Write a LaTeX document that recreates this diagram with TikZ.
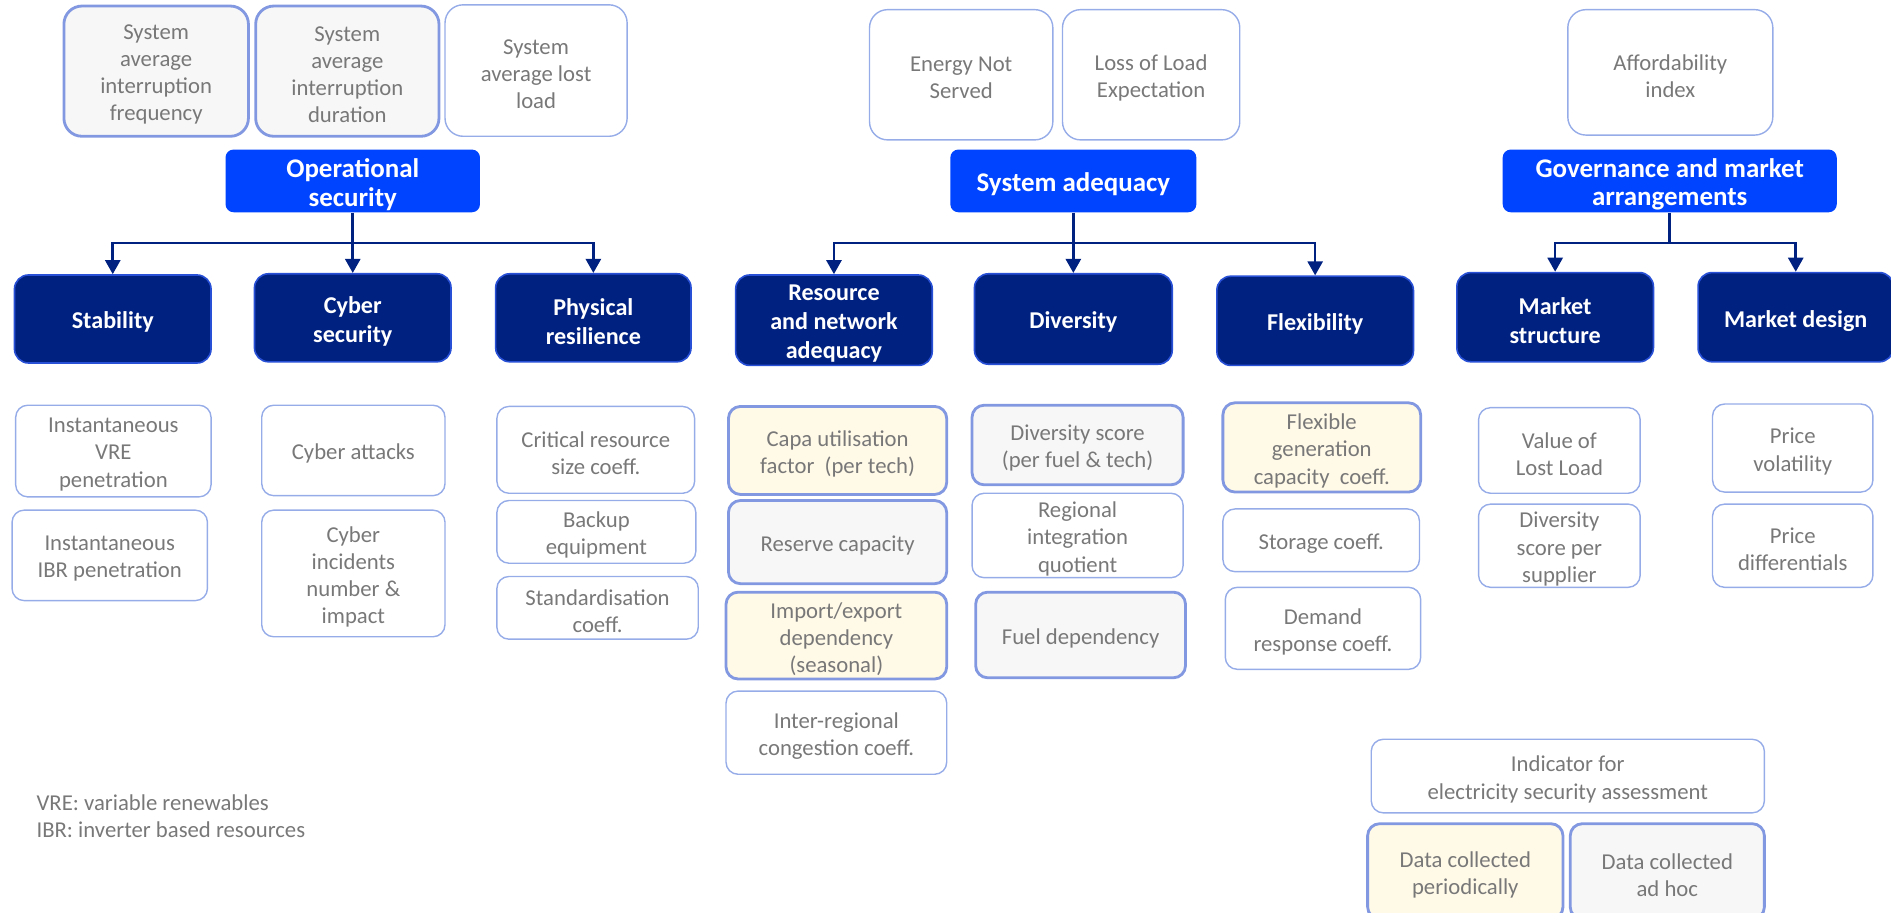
\documentclass[tikz,border=0pt]{standalone}
\usepackage{fontspec}
\setmainfont{Carlito}
\usetikzlibrary{arrows.meta,calc}
\definecolor{hdrblue}{RGB}{0,68,255}
\definecolor{navy}{RGB}{0,33,128}
\definecolor{navyedge}{RGB}{40,80,215}
\definecolor{thinedge}{RGB}{150,172,232}
\definecolor{thickedge}{RGB}{130,152,224}
\definecolor{txtgray}{RGB}{120,120,120}
\definecolor{grayfill}{RGB}{247,247,247}
\definecolor{yelfill}{RGB}{255,249,232}
\newcommand{\bx}[7]{\node[#6, minimum width={(#4-#2)*0.6pt}, minimum height={(#5-#3)*0.6pt}] (#1) at ({(#2+#4)/2},{(#3+#5)/2}) {};
  \node[#6, draw=none, fill=none, minimum width=0pt, minimum height=0pt] (#1-t) at ([yshift=-1.7pt]#1.center) {#7};}
\begin{document}
\begin{tikzpicture}[x=0.6pt, y=-0.6pt,
  ind/.style={draw=thinedge, line width=0.7pt, rounded corners=6pt, text=txtgray, align=center, inner sep=1pt, font=\fontsize{11.3}{13.5}\selectfont},
  indk/.style={ind, draw=thickedge, line width=1.4pt},
  gry/.style={indk, fill=grayfill},
  yel/.style={indk, fill=yelfill},
  topb/.style={ind, rounded corners=9pt},
  topg/.style={gry, rounded corners=9pt},
  hdr/.style={fill=hdrblue, rounded corners=4pt, text=white, align=center, inner sep=1pt, font=\fontsize{13.4}{14.4}\selectfont\bfseries},
  sub/.style={fill=navy, draw=navyedge, line width=0.8pt, rounded corners=7pt, text=white, align=center, inner sep=1pt, font=\fontsize{12}{14.4}\selectfont\bfseries},
  conn/.style={draw=navy, line width=1.3pt},
  arr/.style={conn, -{Triangle[width=7.5pt,length=7pt]}},
  note/.style={text=txtgray, align=left, inner sep=0pt, font=\fontsize{11.3}{13.6}\selectfont}
]
\useasboundingbox (0,0) rectangle (1568,757);

% top indicators
\bx{b1}{53}{5}{206}{113}{topg}{System\\average\\interruption\\frequency}
\bx{b2}{212}{5}{364}{113}{topg}{System\\average\\interruption\\duration}
\bx{b3}{369}{4}{520}{113}{topb}{System\\average lost\\load}
\bx{ens}{721}{8}{873}{116}{topb}{Energy Not\\Served}
\bx{lole}{881}{8}{1028}{116}{topb}{Loss of Load\\Expectation}
\bx{aff}{1300}{8}{1470}{112}{topb}{Affordability\\index}

% main headers
\bx{os}{187}{124}{398}{176}{hdr}{Operational\\security}
\bx{sa}{788}{124}{992}{176}{hdr}{System adequacy}
\bx{gm}{1246}{124}{1523}{176}{hdr}{Governance and market\\arrangements}

% sub headers
\bx{stab}{12}{228}{175}{301}{sub}{Stability}
\bx{cyb}{211}{227}{374}{300}{sub}{Cyber\\security}
\bx{phys}{411}{227}{573}{300}{sub}{Physical\\resilience}
\bx{rna}{610}{228}{773}{303}{sub}{Resource\\and network\\adequacy}
\bx{div}{808}{227}{972}{302}{sub}{Diversity}
\bx{flex}{1009}{229}{1172}{303}{sub}{Flexibility}
\bx{mstr}{1208}{226}{1371}{300}{sub}{Market\\structure}
\bx{mdes}{1408}{226}{1570}{300}{sub}{Market design}

% connectors
\coordinate (osj) at ($(os.south)!0.5!(cyb.north)$);
\draw[arr] (os.south) -- (cyb.north);
\draw[arr] (osj) -| (stab.north);
\draw[arr] (osj) -| (phys.north);
\coordinate (saj) at ($(sa.south)!0.5!(div.north)$);
\draw[arr] (sa.south) -- (div.north);
\draw[arr] (saj) -| (rna.north);
\draw[arr] (saj) -| (flex.north);
\coordinate (gmj) at ($(gm.south)+(0,25)$);
\draw[conn] (gm.south) -- (gmj);
\draw[arr] (gmj) -| (mstr.north);
\draw[arr] (gmj) -| (mdes.north);

% stability
\bx{vre}{13}{336}{175}{412}{ind}{Instantaneous\\VRE\\penetration}
\bx{ibr}{10}{423}{172}{498}{ind}{Instantaneous\\IBR penetration}
% cyber
\bx{catt}{217}{336}{369}{411}{ind}{Cyber attacks}
\bx{cinc}{217}{423}{369}{528}{ind}{Cyber\\incidents\\number \&\\impact}
% physical
\bx{crit}{412}{337}{576}{409}{ind}{Critical resource\\size coeff.}
\bx{back}{412}{415}{577}{467}{ind}{Backup\\equipment}
\bx{stdc}{412}{478}{579}{530}{ind}{Standardisation\\coeff.}
% resource
\bx{capa}{604}{337}{785}{410}{yel}{Capa utilisation\\factor\ \ (per tech)}
\bx{resv}{604}{415}{785}{484}{gry}{Reserve capacity}
\bx{impx}{602}{491}{785}{563}{yel}{Import/export\\dependency\\(seasonal)}
\bx{intr}{602}{573}{785}{642}{ind}{Inter-regional\\congestion coeff.}
% diversity
\bx{dscr}{806}{336}{981}{402}{gry}{Diversity score\\(per fuel \& tech)}
\bx{regi}{806}{409}{981}{479}{ind}{Regional\\integration\\quotient}
\bx{fuel}{809}{491}{983}{562}{gry}{Fuel dependency}
% flexibility
\bx{fgen}{1014}{334}{1178}{408}{yel}{Flexible\\generation\\capacity\ \ coeff.}
\bx{stor}{1014}{422}{1177}{474}{ind}{Storage coeff.}
\bx{dmnd}{1016}{487}{1178}{555}{ind}{Demand\\response coeff.}
% market structure
\bx{voll}{1226}{338}{1360}{409}{ind}{Value of\\Lost Load}
\bx{dsup}{1226}{418}{1360}{487}{ind}{Diversity\\score per\\supplier}
% market design
\bx{pvol}{1420}{335}{1553}{408}{ind}{Price\\volatility}
\bx{pdif}{1420}{418}{1553}{487}{ind}{Price\\differentials}

% legend
\bx{lgi}{1137}{613}{1463}{674}{ind}{Indicator for\\electricity security assessment}
\bx{lgp}{1134}{683}{1296}{762}{yel}{Data collected\\periodically}
\bx{lga}{1302}{683}{1463}{762}{gry}{Data collected\\ad hoc}

% notes
\node[note, anchor=west] (notes) at (30,677) {VRE: variable renewables\\IBR: inverter based resources};
\end{tikzpicture}
\end{document}
